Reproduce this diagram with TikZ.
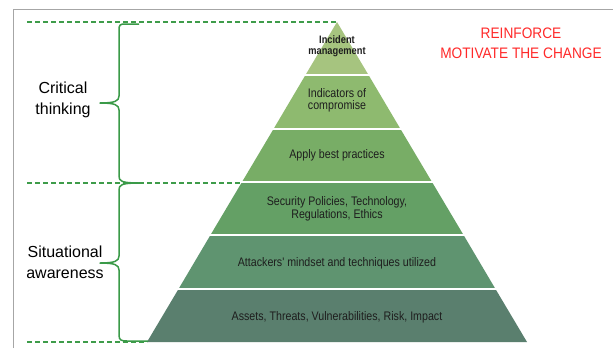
\documentclass[tikz,border=0pt]{standalone}
\usepackage{fontspec}
\setmainfont{Liberation Sans}
\newfontfamily\narrowfont[FakeStretch=0.9]{Liberation Sans}
\newfontfamily\layfont[FakeStretch=0.86]{Liberation Sans}
\definecolor{lay1}{HTML}{A6C47F}
\definecolor{lay2}{HTML}{8EBA6F}
\definecolor{lay3}{HTML}{78AD66}
\definecolor{lay4}{HTML}{64A065}
\definecolor{lay5}{HTML}{5F9470}
\definecolor{lay6}{HTML}{5A7F6E}
\definecolor{dashgreen}{HTML}{3E9C4A}
\definecolor{bracegreen}{HTML}{3A9A48}
\definecolor{redtext}{HTML}{FF2A2A}
\definecolor{txt}{HTML}{1E1E1E}
\begin{document}
\begin{tikzpicture}[x=1pt,y=-1pt,
  dashline/.style={draw=dashgreen,line width=1.7pt,dash pattern=on 5pt off 3pt},
  bracepath/.style={draw=bracegreen,line width=1.5pt,line join=round},
  laytext/.style={text=txt,font=\layfont\fontsize{12.4}{12.5}\selectfont,align=center,inner sep=0pt},
  sidelabel/.style={text=black,font=\fontsize{16}{21}\selectfont,align=center,inner sep=0pt},
  redlabel/.style={text=redtext,font=\narrowfont\fontsize{15.2}{20}\selectfont,align=center,inner sep=0pt},
  gap/.style={draw=white,line width=2pt}]
\useasboundingbox (0,0) rectangle (613,348);
\fill[white] (0,0) rectangle (613,348);
% frame
\draw[gray!70,line width=1pt] (13,348) -- (13,9) -- (613,9);
% pyramid layers (apex 337,22; base y 342, half width 190)
\fill[lay1] (337,22) -- (305.3,75.3) -- (368.7,75.3) -- cycle;
\fill[lay2] (305.3,75.3) -- (273.7,128.7) -- (400.3,128.7) -- (368.7,75.3) -- cycle;
\fill[lay3] (273.7,128.7) -- (242,182) -- (432,182) -- (400.3,128.7) -- cycle;
\fill[lay4] (242,182) -- (210.3,235.3) -- (463.7,235.3) -- (432,182) -- cycle;
\fill[lay5] (210.3,235.3) -- (178.7,288.7) -- (495.3,288.7) -- (463.7,235.3) -- cycle;
\fill[lay6] (178.7,288.7) -- (147,342) -- (527,342) -- (495.3,288.7) -- cycle;
\foreach \yy in {75.3,128.7,182,235.3,288.7} \draw[gap] (140,\yy) -- (540,\yy);
% dashed guide lines
\coordinate (apex) at (337,22);
\coordinate (midleft) at (240,183);
\coordinate (baseleft) at (147,342);
\coordinate (d1) at (27,22);
\coordinate (d2) at (27,183);
\coordinate (d3) at (27,342);
\draw[dashline] (d1) -- (apex);
\draw[dashline] (d2) -- (midleft);
\draw[dashline] (d3) -- (baseleft);
% braces
\coordinate (b1top) at (139,24);
\coordinate (bmid) at (139,183);
\coordinate (b2bot) at (148,341);
\draw[bracepath] (b1top) -- (125,24) .. controls (120,24) and (119,25) .. (119,30) -- (119,96)
  .. controls (119,101) and (115,103) .. (100,103) .. controls (115,103) and (119,105) .. (119,110)
  -- (119,176) .. controls (119,181) and (121,183) .. (bmid);
\draw[bracepath] (bmid) .. controls (121,183) and (119,185) .. (119,190) -- (119,256)
  .. controls (119,261) and (115,263) .. (100,263) .. controls (115,263) and (119,265) .. (119,270)
  -- (119,335) .. controls (119,340) and (121,341) .. (127,341) -- (b2bot);
% side labels
\node[sidelabel] (crit) at (63,100) {Critical\\thinking};
\node[sidelabel] (situ) at (65,262) {Situational\\awareness};
% red labels
\node[redlabel] (red) at (521,43) {REINFORCE\\MOTIVATE THE CHANGE};
% layer texts
\node[laytext,font=\layfont\bfseries\fontsize{10.8}{10.5}\selectfont] (t1) at (337,46) {Incident\\management};
\node[laytext] (t2) at (337,100.5) {Indicators of\\compromise};
\node[laytext] (t3) at (337,155) {Apply best practices};
\node[laytext] (t4) at (337,209) {Security Policies, Technology,\\Regulations, Ethics};
\node[laytext] (t5) at (337,263) {Attackers' mindset and techniques utilized};
\node[laytext] (t6) at (337,317) {Assets, Threats, Vulnerabilities, Risk, Impact};
\end{tikzpicture}
\end{document}
